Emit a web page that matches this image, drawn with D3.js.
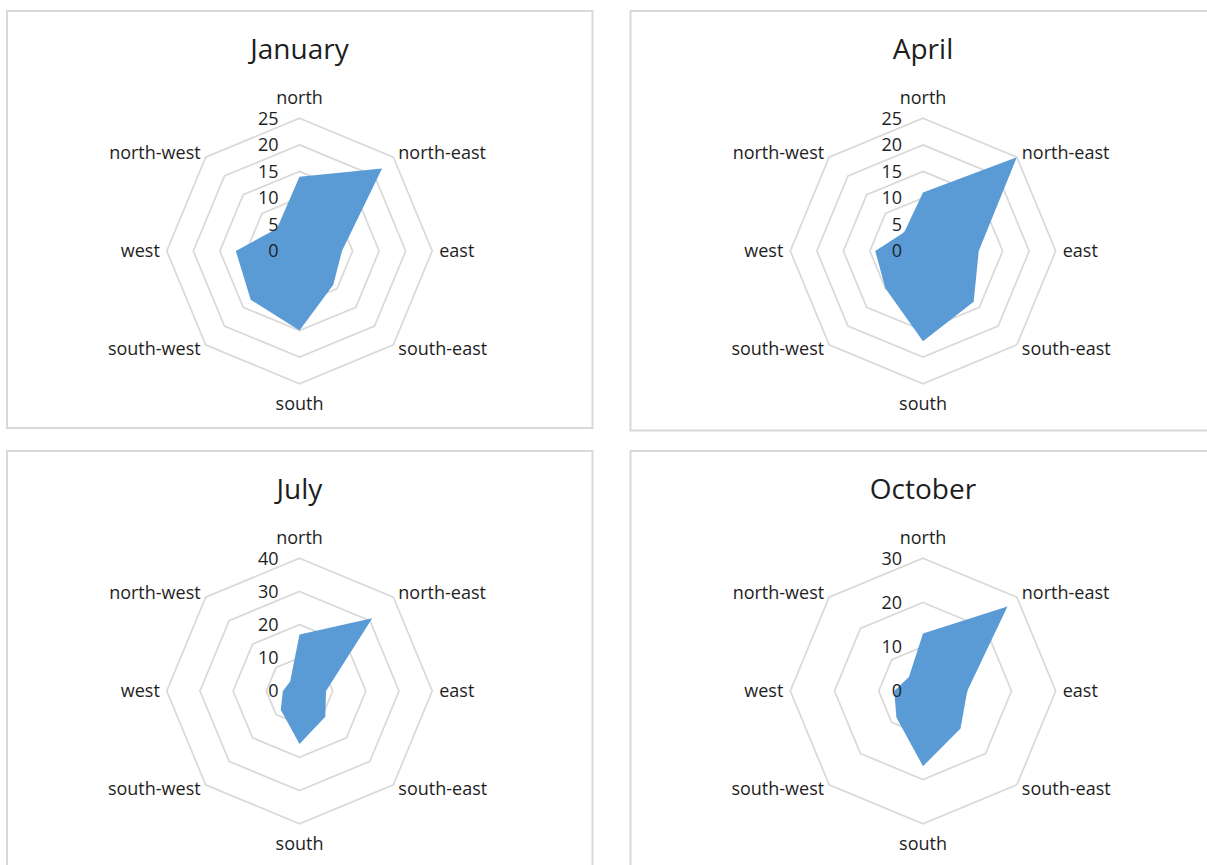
<!DOCTYPE html>
<html>
<head>
<meta charset="utf-8">
<script src="https://cdn.jsdelivr.net/npm/d3@7"></script>
<style>
  html, body { margin: 0; padding: 0; background: #ffffff; }
  svg { display: block; font-family: "Open Sans", "Noto Sans", sans-serif; }
</style>
</head>
<body>
<svg id="chart" width="1207" height="865"></svg>
<script>
// Wind direction frequencies per month
const directions = ["north", "north-east", "east", "south-east", "south", "south-west", "west", "north-west"];
const months = ["January", "April", "July", "October"];

const januaryValues = [14, 22, 8, 9, 15, 13, 12, 6];
const aprilValues   = [11, 25, 10.5, 13.5, 17, 10, 9, 5];
const julyValues    = [17, 31, 8, 11, 16, 8, 5, 4];
const octoberValues = [13, 27, 10, 12, 17, 8.5, 6.5, 4.5];

const januaryTicks = [0, 5, 10, 15, 20, 25];
const aprilTicks   = [0, 5, 10, 15, 20, 25];
const julyTicks    = [0, 10, 20, 30, 40];
const octoberTicks = [0, 10, 20, 30];

const seriesValues = [januaryValues, aprilValues, julyValues, octoberValues];
const seriesTicks  = [januaryTicks, aprilTicks, julyTicks, octoberTicks];

// Panel frames (left, top) in a 2 x 2 grid
const panelX = [7, 630.5];
const panelY = [11, 451];
const panelW = 585.5;
const panelH = 417;

const radius = 132.7;
const fillColor = "#5b9bd5";
const gridColor = "#d9d9d9";
const textColor = "#1e1e1e";
const labelSize = 18;

const svg = d3.select("#chart");

const angle = d3.scaleLinear().domain([0, directions.length]).range([0, 2 * Math.PI]);

months.forEach((month, k) => {
  const col = k % 2, row = Math.floor(k / 2);
  const px = panelX[col], py = panelY[row];
  const cx = px + 292.5, cy = py + 240;
  const values = seriesValues[k];
  const ticks = seriesTicks[k];

  const g = svg.append("g");

  // chart frame
  g.append("rect")
    .attr("x", px).attr("y", py)
    .attr("width", panelW).attr("height", row === 0 ? panelH + (col === 1 ? 2.5 : 0) : 600)
    .attr("fill", "none")
    .attr("stroke", gridColor)
    .attr("stroke-width", 2);

  // title
  g.append("text")
    .attr("x", cx).attr("y", py + 47.5)
    .attr("text-anchor", "middle")
    .attr("font-size", 28)
    .attr("fill", textColor)
    .text(month);

  const r = d3.scaleLinear().domain([0, d3.max(ticks)]).range([0, radius]);
  const plot = g.append("g").attr("transform", `translate(${cx},${cy})`);

  // octagonal gridlines
  const ring = d3.lineRadial()
    .angle((d, i) => angle(i))
    .radius(d => r(d))
    .curve(d3.curveLinearClosed);

  plot.selectAll("path.ring")
    .data(ticks.filter(t => t > 0))
    .join("path")
    .attr("class", "ring")
    .attr("d", t => ring(directions.map(() => t)))
    .attr("fill", "none")
    .attr("stroke", gridColor)
    .attr("stroke-width", 1.75);

  // filled series area
  const area = d3.lineRadial()
    .angle((d, i) => angle(i))
    .radius(d => r(d))
    .curve(d3.curveLinearClosed);

  plot.append("path")
    .attr("d", area(values))
    .attr("fill", fillColor);

  // value axis labels along the north spoke
  plot.selectAll("text.tick")
    .data(ticks)
    .join("text")
    .attr("class", "tick")
    .attr("x", -21)
    .attr("y", t => -r(t) + 6.3)
    .attr("text-anchor", "end")
    .attr("font-size", labelSize)
    .attr("fill", textColor)
    .text(t => t);

  // category labels just outside the outer ring
  const rMax = r(d3.max(ticks));
  plot.selectAll("text.cat")
    .data(directions)
    .join("text")
    .attr("class", "cat")
    .each(function (d, i) {
      const a = angle(i);
      const s = Math.sin(a), c = Math.cos(a);
      const vx = rMax * s, vy = -rMax * c;
      const onAxis = Math.abs(s) < 0.01;
      const vertical = Math.abs(c) < 0.01;
      let anchor = "middle", dx = 0;
      if (!onAxis) {
        anchor = s > 0 ? "start" : "end";
        dx = (s > 0 ? 1 : -1) * (vertical ? 7 : 5);
      }
      const dy = -c * (onAxis ? 20 : 6.5);
      d3.select(this)
        .attr("x", vx + dx)
        .attr("y", vy + dy + 6)
        .attr("text-anchor", anchor);
    })
    .attr("font-size", labelSize)
    .attr("fill", textColor)
    .text(d => d);
});
</script>
</body>
</html>
